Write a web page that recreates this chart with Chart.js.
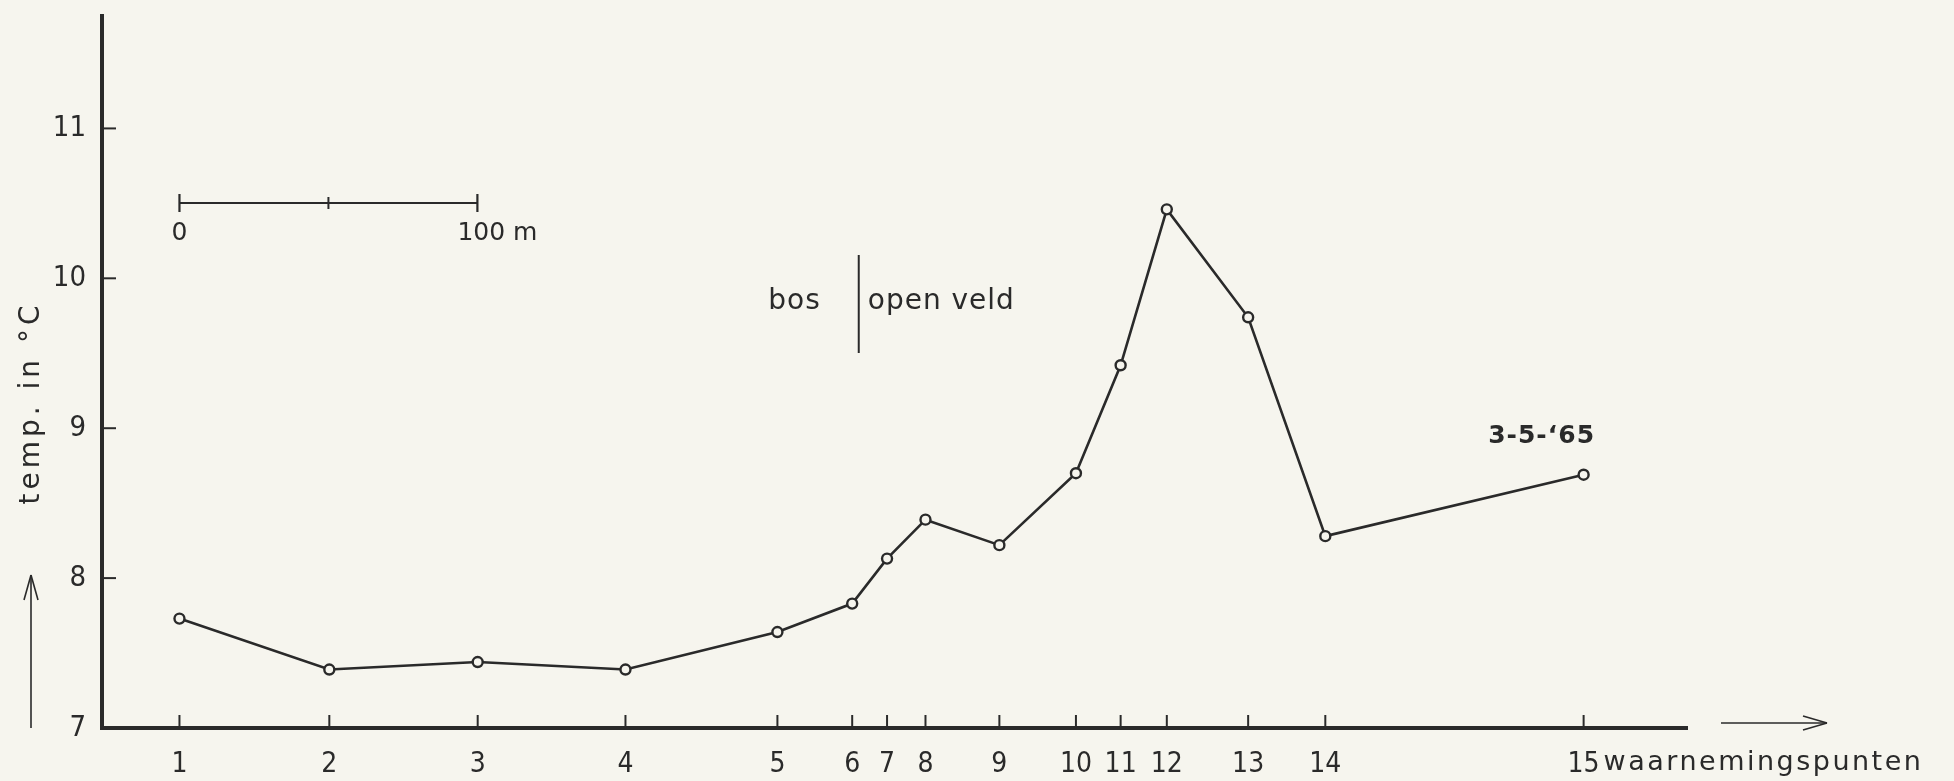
<!DOCTYPE html>
<html>
<head>
<meta charset="utf-8">
<script src="https://cdn.jsdelivr.net/npm/chart.js@4.4.1/dist/chart.umd.min.js"></script>
<style>
  html, body { margin: 0; padding: 0; background: #f6f5ee; }
  #c { display: block; }
</style>
</head>
<body>
<canvas id="c" width="1954" height="781"></canvas>
<script>
// ---- data ----
const pointLabels = ['1','2','3','4','5','6','7','8','9','10','11','12','13','14','15'];
// distance along the transect (m) of each observation point
const distances = [0, 50.3, 100.1, 149.7, 200.7, 225.8, 237.5, 250.4, 275.2, 300.9, 315.9, 331.4, 358.7, 384.6, 471.3];
// temperature in °C
const temps = [7.73, 7.39, 7.44, 7.39, 7.64, 7.83, 8.13, 8.39, 8.22, 8.70, 9.42, 10.46, 9.74, 8.28, 8.69];
const yTicks = [7, 8, 9, 10, 11];
const xTitle = 'waarnemingspunten';
const yTitle = 'temp. in °C';
const dateLabel = '3-5-‘65';
const zoneLeft = 'bos';
const zoneRight = 'open veld';
const zoneBoundary = 228;      // m
const scaleBarLength = 100;    // m
const scaleLabels = ['0', '100 m'];

const INK = '#2a2a2a';
const PAPER = '#f6f5ee';
const NARROW = '"Liberation Sans Narrow", "DejaVu Sans Condensed", "Arial Narrow", sans-serif';
const SANS = '"DejaVu Sans", "Noto Sans", sans-serif';

function line(ctx, x1, y1, x2, y2, w) {
  ctx.beginPath();
  ctx.lineWidth = w;
  ctx.moveTo(x1, y1);
  ctx.lineTo(x2, y2);
  ctx.stroke();
}

const paperPlugin = {
  id: 'paper',
  beforeDraw(chart) {
    const ctx = chart.ctx;
    ctx.save();
    ctx.fillStyle = PAPER;
    ctx.fillRect(0, 0, chart.width, chart.height);
    ctx.restore();
  }
};

const decorPlugin = {
  id: 'decor',
  afterDraw(chart) {
    const ctx = chart.ctx;
    const xs = chart.scales.x, ys = chart.scales.y;
    const area = chart.chartArea;
    ctx.save();
    ctx.strokeStyle = INK;
    ctx.fillStyle = INK;
    ctx.lineCap = 'butt';

    // inward tick marks
    distances.forEach(d => {
      const px = xs.getPixelForValue(d);
      line(ctx, px, area.bottom, px, area.bottom - 13, 2);
    });
    yTicks.forEach(v => {
      if (v === ys.min) return;
      const py = ys.getPixelForValue(v);
      line(ctx, area.left, py, area.left + 14, py, 2);
    });

    // x axis arrow + title
    const ay = area.bottom - 5;
    line(ctx, area.right + 34, ay, area.right + 140, ay, 1.6);
    line(ctx, area.right + 140, ay, area.right + 116, ay - 7, 1.6);
    line(ctx, area.right + 140, ay, area.right + 116, ay + 7, 1.6);
    const p15 = xs.getPixelForValue(distances[distances.length - 1]);
    ctx.font = '27px ' + SANS;
    ctx.letterSpacing = '2.5px';
    ctx.textAlign = 'left';
    ctx.textBaseline = 'middle';
    ctx.fillText(xTitle, p15 + 20, 763);

    // y axis title (rotated) + arrow
    ctx.save();
    ctx.translate(32, 403);
    ctx.rotate(-Math.PI / 2);
    ctx.font = '28px ' + SANS;
    ctx.letterSpacing = '4px';
    ctx.textAlign = 'center';
    ctx.textBaseline = 'middle';
    ctx.fillText(yTitle, 0, 0);
    ctx.restore();
    ctx.letterSpacing = '0px';
    line(ctx, 31, 728, 31, 575, 1.6);
    line(ctx, 31, 575, 24, 600, 1.6);
    line(ctx, 31, 575, 38, 600, 1.6);

    // scale bar
    const x0 = xs.getPixelForValue(0);
    const x1 = xs.getPixelForValue(scaleBarLength);
    const xm = xs.getPixelForValue(scaleBarLength / 2);
    const sy = 203;
    line(ctx, x0, sy, x1, sy, 2.2);
    line(ctx, x0, sy - 9, x0, sy + 9, 2.2);
    line(ctx, x1, sy - 9, x1, sy + 9, 2.2);
    line(ctx, xm, sy - 6, xm, sy + 6, 2);
    ctx.font = '25px ' + SANS;
    ctx.textBaseline = 'middle';
    ctx.textAlign = 'center';
    ctx.fillText(scaleLabels[0], x0, 233);
    ctx.textAlign = 'left';
    ctx.fillText(scaleLabels[1], x1 - 20, 233);

    // zone boundary: bos | open veld
    const bx = xs.getPixelForValue(zoneBoundary);
    line(ctx, bx, 255, bx, 353, 2);
    ctx.font = '28px ' + SANS;
    ctx.letterSpacing = '1px';
    ctx.textAlign = 'right';
    ctx.fillText(zoneLeft, bx - 38, 302);
    ctx.textAlign = 'left';
    ctx.fillText(zoneRight, bx + 9, 302);

    // date label
    ctx.font = 'bold 25px ' + SANS;
    ctx.letterSpacing = '1px';
    ctx.textAlign = 'center';
    ctx.fillText(dateLabel, p15 - 42, 436);
    ctx.restore();
  }
};

new Chart(document.getElementById('c'), {
  type: 'line',
  data: {
    datasets: [{
      data: distances.map((d, i) => ({ x: d, y: temps[i] })),
      borderColor: INK,
      borderWidth: 2.6,
      tension: 0,
      pointRadius: 5,
      pointHoverRadius: 5,
      pointBorderWidth: 2.4,
      pointBorderColor: INK,
      pointBackgroundColor: PAPER,
      fill: false
    }]
  },
  options: {
    responsive: false,
    animation: false,
    devicePixelRatio: 1,
    layout: { padding: { top: 16, right: 267, left: 0, bottom: 0 } },
    plugins: { legend: { display: false }, tooltip: { enabled: false }, title: { display: false } },
    scales: {
      x: {
        type: 'linear',
        min: -26,
        max: 506,
        afterBuildTicks: s => { s.ticks = distances.map(v => ({ value: v })); },
        afterFit: s => { s.height = 53; s.paddingLeft = 0; s.paddingRight = 0; },
        grid: { display: false, drawTicks: false },
        border: { display: true, width: 4, color: INK },
        ticks: {
          autoSkip: false,
          maxRotation: 0,
          padding: 20,
          color: INK,
          font: { family: NARROW, size: 28 },
          callback: (v, i) => pointLabels[i]
        }
      },
      y: {
        type: 'linear',
        min: 7,
        max: 11.75,
        afterBuildTicks: s => { s.ticks = yTicks.map(v => ({ value: v })); },
        afterFit: s => { s.width = 102; s.paddingTop = 0; s.paddingBottom = 0; },
        grid: { display: false, drawTicks: false },
        border: { display: true, width: 4, color: INK },
        ticks: {
          padding: 16,
          color: INK,
          font: { family: NARROW, size: 29 },
          callback: v => String(v)
        }
      }
    }
  },
  plugins: [paperPlugin, decorPlugin]
});
</script>
</body>
</html>
